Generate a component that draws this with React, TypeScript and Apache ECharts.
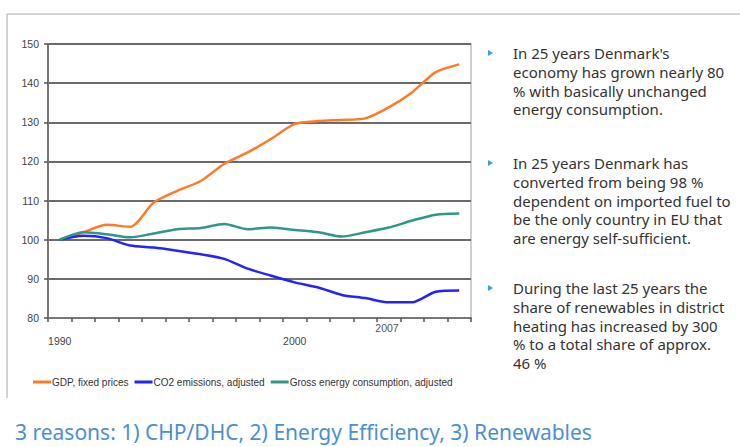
import React, { useEffect, useRef } from "react";
import * as echarts from "echarts";

const years = ["1990","1991","1992","1993","1994","1995","1996","1997","1998","1999","2000","2001","2002","2003","2004","2005","2006","2007"];
const gdp = [100, 101.9, 103.8, 103.3, 109.5, 112.5, 115, 119.4, 122.3, 125.8, 129.6, 130.3, 130.6, 131, 133.8, 137.7, 142.8, 144.8];
const co2 = [100, 101, 100.4, 98.5, 98, 97.2, 96.3, 95.1, 92.6, 90.8, 89.1, 87.8, 85.9, 85.1, 84, 84, 86.7, 87];
const energy = [100, 101.9, 101.4, 100.6, 101.6, 102.7, 103, 104, 102.7, 103.1, 102.5, 101.9, 100.8, 101.9, 103.1, 104.9, 106.4, 106.7];
const seriesNames = ["GDP, fixed prices", "CO2 emissions, adjusted", "Gross energy consumption, adjusted"];
const shownYearLabels = ["1990", "2000"];
const annotation = "2007";

const para1 = ["In 25 years Denmark's", "economy has grown nearly 80", "% with basically unchanged", "energy consumption."];
const para2 = ["In 25 years Denmark has", "converted from being 98 %", "dependent on imported fuel to", "be the only country in EU that", "are energy self-sufficient."];
const para3 = ["During the last 25 years the", "share of renewables in district", "heating has increased by 300", "% to a total share of approx.", "46 %"];
const footer = "3 reasons: 1) CHP/DHC, 2) Energy Efficiency, 3) Renewables";

export default function App() {
  const ref = useRef<HTMLDivElement>(null);
  useEffect(() => {
    if (!ref.current) return;
    const chart = echarts.init(ref.current, null, { renderer: "svg" });
    const lh = 18.8;
    const textFont = "Noto Sans";
    const paraGraphics: any[] = [];
    const paras = [
      { lines: para1, y: 53 },
      { lines: para2, y: 163 },
      { lines: para3, y: 288 },
    ];
    paras.forEach((p) => {
      paraGraphics.push({
        type: "polygon",
        shape: { points: [[488, p.y - 3], [493, p.y], [488, p.y + 3]] },
        style: { fill: "#3a9fdc" },
      });
      p.lines.forEach((l, i) => {
        paraGraphics.push({
          type: "text",
          x: 513,
          y: p.y + i * lh,
          style: {
            text: l,
            fill: "#333",
            font: `15px "${textFont}"`,
            verticalAlign: "middle",
            align: "left",
          },
        });
      });
    });

    chart.setOption({
      animation: false,
      backgroundColor: "#ffffff",
      grid: {
        left: 48,
        right: 269,
        top: 44,
        bottom: 129,
        show: true,
        borderColor: "#cfcfcf",
        borderWidth: 2,
      },
      legend: {
        left: 28,
        top: 372,
        itemWidth: 18,
        itemHeight: 3,
        itemGap: 6,
        icon: "rect",
        data: seriesNames,
        textStyle: { fontSize: 10, color: "#333", fontFamily: "Liberation Sans", padding: [0, 0, 0, -4] },
      },
      xAxis: {
        type: "category",
        data: years,
        boundaryGap: true,
        axisLine: { lineStyle: { color: "#777", width: 2 } },
        axisTick: { show: true, interval: 0, length: 4, lineStyle: { color: "#555", width: 1.5 } },
        axisLabel: {
          interval: 0,
          formatter: (v: string) => (shownYearLabels.includes(v) ? v : ""),
          fontSize: 10.5,
          color: "#444",
          fontFamily: "Liberation Sans",
          margin: 17,
        },
        splitLine: { show: false },
      },
      yAxis: {
        type: "value",
        min: 80,
        max: 150,
        interval: 10,
        axisLine: { show: true, lineStyle: { color: "#777", width: 2 } },
        axisTick: { show: true, length: 4, lineStyle: { color: "#555", width: 1.5 } },
        axisLabel: { fontSize: 10.5, color: "#444", fontFamily: "Liberation Sans", margin: 9 },
        splitLine: { lineStyle: { color: "#6a6a6a", width: 2 } },
      },
      series: [
        { name: seriesNames[0], type: "line", data: gdp, smooth: 0.25, showSymbol: false, lineStyle: { color: "#ff7a26", width: 2.5 }, itemStyle: { color: "#ff7a26" } },
        { name: seriesNames[1], type: "line", data: co2, smooth: 0.25, showSymbol: false, lineStyle: { color: "#2323ff", width: 2.5 }, itemStyle: { color: "#2323ff" } },
        { name: seriesNames[2], type: "line", data: energy, smooth: 0.25, showSymbol: false, lineStyle: { color: "#2e978a", width: 2.5 }, itemStyle: { color: "#2e978a" } },
      ],
      graphic: [
        { type: "line", shape: { x1: 7, y1: 14, x2: 740, y2: 14 }, style: { stroke: "#c4c4c4", lineWidth: 1.5 } },
        { type: "line", shape: { x1: 7, y1: 14, x2: 7, y2: 398 }, style: { stroke: "#c4c4c4", lineWidth: 1.5 } },
        {
          type: "text",
          x: 387,
          y: 328,
          style: { text: annotation, fill: "#555", font: '10.5px "Liberation Sans"', align: "center", verticalAlign: "middle" },
        },
        ...paraGraphics,
        {
          type: "text",
          x: 15,
          y: 432,
          style: { text: footer, fill: "#4b8fcf", font: `21px "${textFont}"`, align: "left", verticalAlign: "middle" },
        },
      ],
    });
    return () => chart.dispose();
  }, []);
  return (
    <div
      ref={ref}
      style={{ position: "absolute", left: 0, top: 0, width: 740, height: 447, background: "#fff" }}
    />
  );
}
